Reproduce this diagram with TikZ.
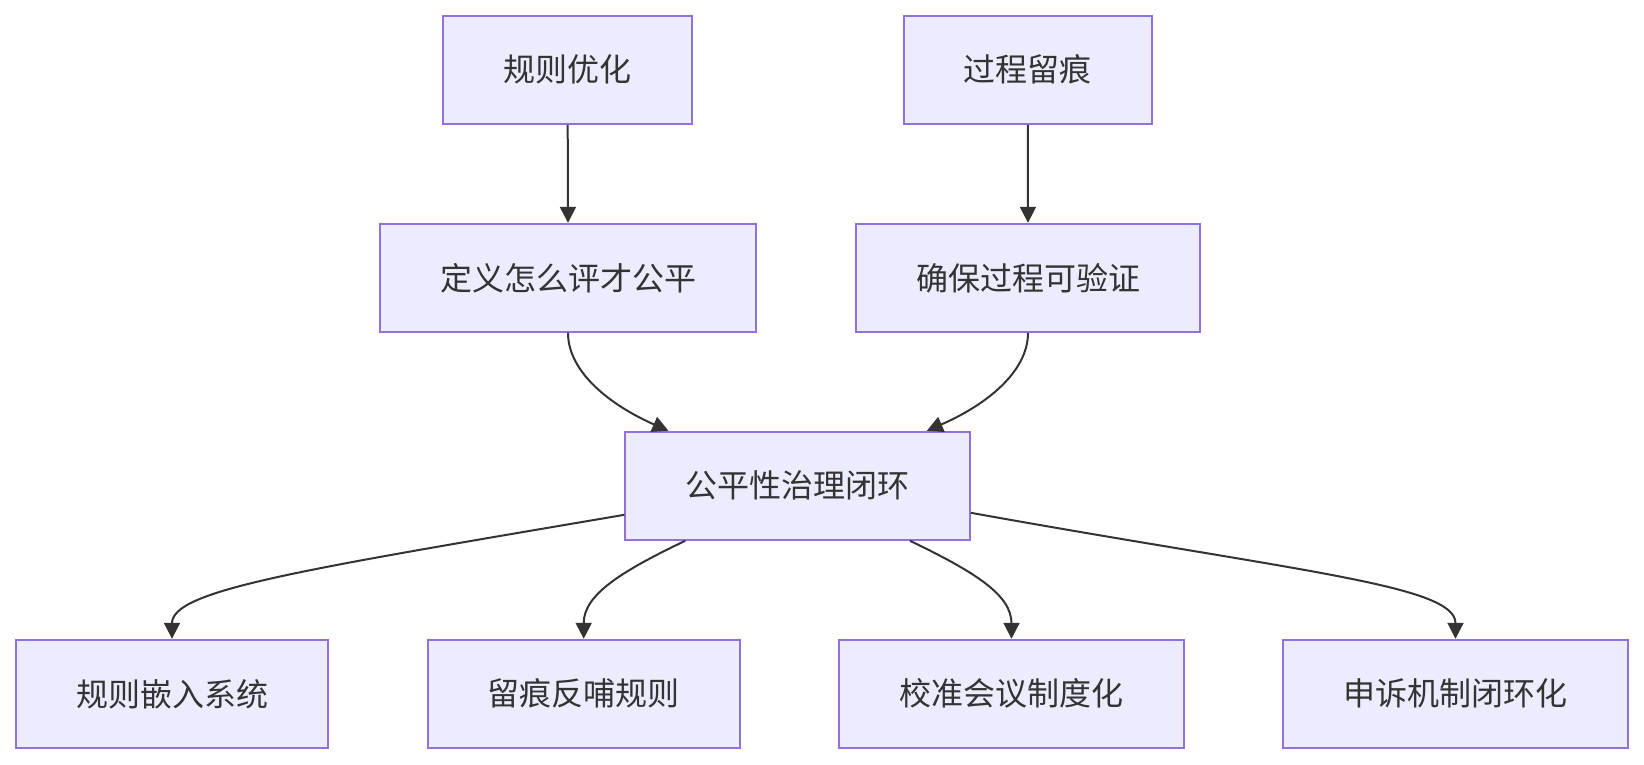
\documentclass[tikz,border=0pt]{standalone}
\usepackage{fontspec}
\newfontfamily\cjk{Noto Sans CJK SC}
\usetikzlibrary{arrows.meta}
\definecolor{boxfill}{HTML}{ECECFF}
\definecolor{boxline}{HTML}{9370DB}
\definecolor{ink}{HTML}{333333}
\begin{document}
\begin{tikzpicture}[x=1pt,y=-1pt,
  box/.style={draw=boxline,fill=boxfill,line width=2pt,rectangle,inner sep=0pt,
    text=ink,font=\cjk\fontsize{32}{38}\selectfont,minimum height=108pt},
  conn/.style={draw=ink,line width=2pt,-{Triangle[length=16pt,width=16pt]}}]
\useasboundingbox (0,0) rectangle (1644,764);
\node[box,minimum width=248.5pt] (A) at (567.7,69.8) {规则优化};
\node[box,minimum width=248pt] (B) at (1027.8,69.8) {过程留痕};
\node[box,minimum width=376pt] (C) at (568,277.8) {定义怎么评才公平};
\node[box,minimum width=344pt] (D) at (1028,277.8) {确保过程可验证};
\node[box,minimum width=344.4pt] (E) at (797.6,485.8) {公平性治理闭环};
\node[box,minimum width=312.5pt] (F1) at (172,693.8) {规则嵌入系统};
\node[box,minimum width=312pt] (F2) at (583.7,693.8) {留痕反哺规则};
\node[box,minimum width=344.4pt] (F3) at (1011.5,693.8) {校准会议制度化};
\node[box,minimum width=344.5pt] (F4) at (1455.5,693.8) {申诉机制闭环化};
\draw[conn] (A.south) -- (C.north);
\draw[conn] (B.south) -- (D.north);
\draw[conn] (C.south) .. controls (568,372) and (610,405) .. ([xshift=-129.2pt]E.north);
\draw[conn] (D.south) .. controls (1028,372) and (986,405) .. ([xshift=129.2pt]E.north);
\draw[conn] ([yshift=-29pt]E.west) .. controls (300,570) and (172,590) .. (F1.north);
\draw[conn] ([xshift=-112.4pt]E.south) .. controls (620,572) and (583.7,595) .. (F2.north);
\draw[conn] ([xshift=112.4pt]E.south) .. controls (975,572) and (1011.5,595) .. (F3.north);
\draw[conn] ([yshift=-27pt]E.east) .. controls (1300,572) and (1455.5,585) .. (F4.north);
\end{tikzpicture}
\end{document}
